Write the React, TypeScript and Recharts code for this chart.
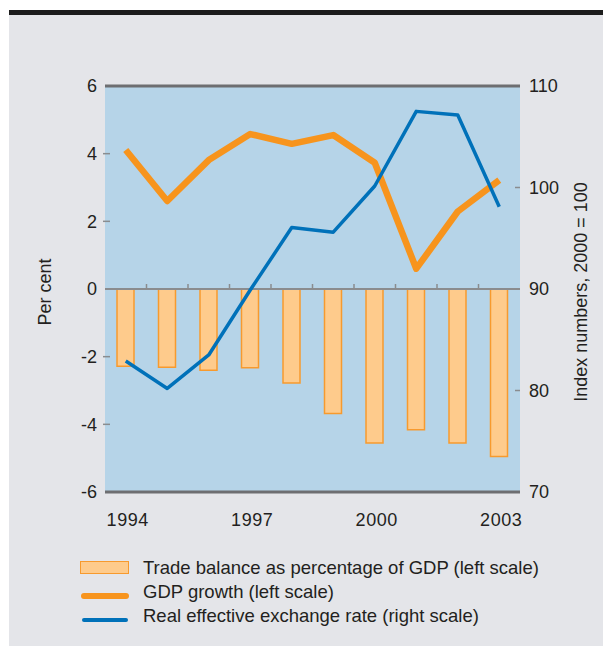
import { ComposedChart, Bar, Line, XAxis, YAxis, CartesianGrid, ReferenceLine } from 'recharts';

const years = ['1994', '1995', '1996', '1997', '1998', '1999', '2000', '2001', '2002', '2003'];
const tradeBalance = [-2.28, -2.31, -2.4, -2.33, -2.78, -3.68, -4.55, -4.16, -4.55, -4.95];
const gdpGrowth = [4.11, 2.6, 3.81, 4.58, 4.29, 4.55, 3.73, 0.6, 2.29, 3.22];
const exchangeRate = [82.9, 80.2, 83.5, 89.9, 96.05, 95.6, 100.15, 107.5, 107.15, 98.1];
const leftTicks = [-6, -4, -2, 0, 2, 4, 6];
const rightTicks = [70, 80, 90, 100, 110];

const data = years.map((year, i) => ({
  year,
  trade: tradeBalance[i],
  gdp: gdpGrowth[i],
  rer: exchangeRate[i],
}));

const FONT = '"Liberation Sans", Arial, Helvetica, sans-serif';
const TEXT = '#231f20';
const AXIS = '#6d6e71';
const TICK = '#8a8c8f';
const FS = 18;

const LeftTick = ({ x, y, payload }: any) => (
  <g>
    {payload.value !== 0 && Math.abs(payload.value) !== 6 && (
      <line x1={x + 6} x2={x + 13} y1={y} y2={y} stroke={TICK} strokeWidth={1.5} />
    )}
    <text x={x} y={y} dy="0.36em" textAnchor="end" fill={TEXT} fontSize={FS} fontFamily={FONT}>
      {payload.value}
    </text>
  </g>
);

const RightTick = ({ x, y, payload }: any) => (
  <g>
    {(payload.value === 80 || payload.value === 100) && (
      <line x1={x - 14} x2={x - 9} y1={y} y2={y} stroke={TICK} strokeWidth={1.5} />
    )}
    <text x={x} y={y} dy="0.36em" textAnchor="start" fill={TEXT} fontSize={FS} fontFamily={FONT}>
      {payload.value}
    </text>
  </g>
);

const YearTick = ({ x, y, payload }: any) => (
  <text x={x + 2} y={y + 34} textAnchor="middle" fill={TEXT} fontSize={FS} letterSpacing={0.6} fontFamily={FONT}>
    {payload.value}
  </text>
);

// zero line with small upward ticks between the years
const ZeroLine = (props: any) => {
  const { x1, y1, x2 } = props;
  const step = (x2 - x1) / years.length;
  return (
    <g>
      <line x1={x1} x2={x2} y1={y1} y2={y1} stroke={TICK} strokeWidth={2} />
      {years.slice(1).map((_, i) => (
        <line
          key={i}
          x1={x1 + step * (i + 1)}
          x2={x1 + step * (i + 1)}
          y1={y1}
          y2={y1 - 5}
          stroke={TICK}
          strokeWidth={1.5}
        />
      ))}
    </g>
  );
};

const legendText = {
  position: 'absolute' as const,
  left: 143,
  fontFamily: FONT,
  fontSize: 18.5,
  color: TEXT,
  lineHeight: '20px',
  whiteSpace: 'nowrap' as const,
};

const axisTitle = {
  position: 'absolute' as const,
  top: 292,
  transform: 'translate(-50%, -50%) rotate(-90deg)',
  fontFamily: FONT,
  fontSize: FS,
  color: TEXT,
  whiteSpace: 'nowrap' as const,
};

export default function App() {
  return (
    <div style={{ position: 'absolute', left: 0, top: 0, width: 603, height: 646, background: '#fff' }}>
      <div style={{ position: 'absolute', left: 9, top: 10, width: 594, height: 5, background: '#1c1c1c' }} />
      <div style={{ position: 'absolute', left: 9, top: 15, width: 594, height: 631, background: '#e4e5e9' }} />

      <div style={{ position: 'absolute', left: 0, top: 0 }}>
        <ComposedChart width={603} height={646} data={data} margin={{ top: 86, right: 43, bottom: 124, left: 65 }}>
          <CartesianGrid fill="#b6d4e8" horizontal={false} vertical={false} />
          <XAxis
            dataKey="year"
            interval={2}
            tick={<YearTick />}
            tickSize={0}
            tickMargin={0}
            axisLine={false}
            height={30}
          />
          <YAxis
            yAxisId="left"
            domain={[-6, 6]}
            ticks={leftTicks}
            tick={<LeftTick />}
            tickSize={0}
            tickMargin={8}
            axisLine={false}
            width={40}
          />
          <YAxis
            yAxisId="right"
            orientation="right"
            domain={[70, 110]}
            ticks={rightTicks}
            tick={<RightTick />}
            tickSize={0}
            tickMargin={9}
            axisLine={false}
            width={40}
          />
          <Bar
            yAxisId="left"
            dataKey="trade"
            barSize={17}
            fill="#fecb8c"
            stroke="#f79a2e"
            strokeWidth={1.5}
            isAnimationActive={false}
          />
          <ReferenceLine yAxisId="left" y={0} shape={<ZeroLine />} />
          <ReferenceLine yAxisId="left" y={6} stroke={AXIS} strokeWidth={3} />
          <ReferenceLine yAxisId="left" y={-6} stroke={AXIS} strokeWidth={3} />
          <Line
            yAxisId="left"
            dataKey="gdp"
            stroke="#f7941d"
            strokeWidth={6.5}
            dot={false}
            activeDot={false}
            strokeLinejoin="round"
            isAnimationActive={false}
          />
          <Line
            yAxisId="right"
            dataKey="rer"
            stroke="#0071b9"
            strokeWidth={3.5}
            dot={false}
            activeDot={false}
            strokeLinejoin="round"
            isAnimationActive={false}
          />
        </ComposedChart>
      </div>

      <div style={{ ...axisTitle, left: 45 }}>Per cent</div>
      <div style={{ ...axisTitle, left: 581 }}>Index numbers, 2000 = 100</div>

      <div
        style={{
          position: 'absolute',
          left: 80,
          top: 561,
          width: 47,
          height: 11,
          background: '#fecb8c',
          border: '1.5px solid #f79a2e',
        }}
      />
      <div style={{ ...legendText, top: 558 }}>Trade balance as percentage of GDP (left scale)</div>
      <div
        style={{ position: 'absolute', left: 81, top: 593, width: 48, height: 6, borderRadius: 3, background: '#f7941d' }}
      />
      <div style={{ ...legendText, top: 582 }}>GDP growth (left scale)</div>
      <div
        style={{ position: 'absolute', left: 82, top: 617.5, width: 46, height: 4, borderRadius: 2, background: '#0071b9' }}
      />
      <div style={{ ...legendText, top: 606 }}>Real effective exchange rate (right scale)</div>
    </div>
  );
}
